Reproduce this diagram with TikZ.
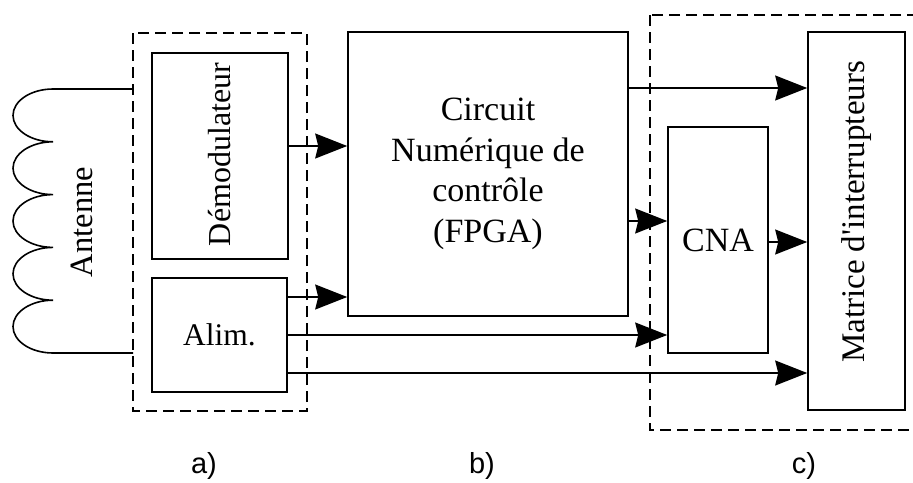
\documentclass[tikz,border=0pt]{standalone}
\usepackage{fontspec}
\setmainfont{Liberation Serif}
\newfontfamily\labelfont{Liberation Sans}
\usetikzlibrary{arrows.meta}

\newcommand\txtsize[1]{\fontsize{#1}{40.5}\selectfont}

\begin{document}
\begin{tikzpicture}[x=1pt,y=-1pt,
  blk/.style={draw, line width=1.6pt, inner sep=0pt, align=center, font=\txtsize{34}},
  group/.style={draw, dash pattern=on 11pt off 6pt, line width=1.4pt},
  sig/.style={line width=1.6pt, -{Stealth[length=32pt, width=25pt, inset=3pt]}},
  wire/.style={line width=1.6pt},
  caption/.style={font=\labelfont\fontsize{29}{32}\selectfont}
]
\useasboundingbox (0,0) rectangle (913,482);
\fill[white] (0,0) rectangle (913,482);
\clip (0,0) rectangle (913,482);

% dashed groupings a) and c)
\draw[group] (133,33) rectangle (307,411);
\draw[group] (650,15) rectangle (930,430);

% blocks
\node[blk, font=\txtsize{32}, minimum width=136pt, minimum height=206pt] (demod) at (220,156)
  {\rotatebox{90}{\hspace{3pt}Démodulateur}};
\node[blk, font=\txtsize{31.5}, minimum width=135pt, minimum height=114pt] (alim) at (219.5,335)
  {Alim.};
\node[blk, minimum width=280pt, minimum height=284pt] (fpga) at (488,174)
  {Circuit\\Numérique de\\contrôle\\(FPGA)};
\node[blk, minimum width=100pt, minimum height=226pt] (cna) at (718,240) {CNA};
\node[blk, font=\txtsize{33}, minimum width=97pt, minimum height=378pt] (matrice) at (856.5,221)
  {\rotatebox{90}{\hspace{18pt}Matrice d\textquotesingle interrupteurs}};

% antenna coil
\node[font=\txtsize{32.5}, rotate=90] (antenne) at (82,222) {Antenne};
\coordinate (coiltop) at (133,89);
\coordinate (coilbot) at (133,353);
\draw[wire] (coiltop) -- (53,89)
  \foreach \i in {1,...,5} { arc[start angle=90, end angle=270, x radius=40pt, y radius=26.4pt] }
  -- (coilbot);

% signal connections
\draw[sig] (demod.east |- 0,146) -- (fpga.west |- 0,146);
\draw[sig] (alim.east |- 0,297) -- (fpga.west |- 0,297);
\draw[sig] (alim.east |- 0,335) -- (cna.west |- 0,335);
\draw[sig] (alim.east |- 0,373) -- (matrice.west |- 0,373);
\draw[sig] (fpga.east |- 0,88) -- (matrice.west |- 0,88);
\draw[sig] (fpga.east |- 0,221) -- (cna.west |- 0,221);
\draw[sig] (cna.east |- 0,242) -- (matrice.west |- 0,242);

% captions
\node[caption] (capa) at (204,466) {a)};
\node[caption] (capb) at (482,466) {b)};
\node[caption] (capc) at (804,466) {c)};
\end{tikzpicture}
\end{document}
